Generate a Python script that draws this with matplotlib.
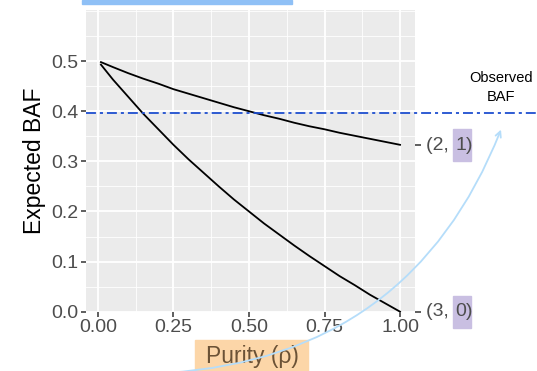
import matplotlib
matplotlib.use("Agg")
import matplotlib.pyplot as plt
from matplotlib.patches import Rectangle, FancyArrowPatch
from matplotlib.ticker import MultipleLocator

plt.rcParams['font.family'] = ['Liberation Sans', 'DejaVu Sans']

# purity values and expected BAF
purity = [0.01, 0.05, 0.1, 0.15, 0.2, 0.25, 0.3, 0.35, 0.4, 0.45, 0.5,
          0.55, 0.6, 0.65, 0.7, 0.75, 0.8, 0.85, 0.9, 0.95, 1.0]
baf_21 = [0.498, 0.488, 0.476, 0.465, 0.455, 0.444, 0.435, 0.426, 0.417, 0.408, 0.400,
          0.392, 0.385, 0.377, 0.370, 0.364, 0.357, 0.351, 0.345, 0.339, 0.333]
baf_30 = [0.493, 0.463, 0.429, 0.395, 0.364, 0.333, 0.304, 0.277, 0.250, 0.224, 0.200,
          0.176, 0.154, 0.132, 0.111, 0.091, 0.071, 0.053, 0.034, 0.017, 0.000]
observed_baf = 0.396

x_ticks = [0.0, 0.25, 0.5, 0.75, 1.0]
x_labels = ["0.00", "0.25", "0.50", "0.75", "1.00"]
y_ticks = [0.0, 0.1, 0.2, 0.3, 0.4, 0.5]
y_labels = ["0.0", "0.1", "0.2", "0.3", "0.4", "0.5"]
right_ticks = [baf_21[-1], baf_30[-1]]
states = [("(2, ", "1", ")"), ("(3, ", "0", ")")]

W, H = 537, 371
def fx(px):
    return px / W
def fy(py):
    return 1 - py / H

fig = plt.figure(figsize=(W / 100, H / 100), dpi=100)
ax = fig.add_axes([fx(86), fy(311.7), fx(415) - fx(86), fy(10) - fy(311.7)])
ax.set_facecolor('#ebebeb')
for s in ax.spines.values():
    s.set_visible(False)

ax.set_xlim(-0.0395, 1.0495)
ax.set_ylim(0, 0.602)
ax.set_xticks(x_ticks)
ax.set_xticklabels(x_labels)
ax.set_yticks(y_ticks)
ax.set_yticklabels(y_labels)
ax.xaxis.set_minor_locator(MultipleLocator(0.125))
ax.yaxis.set_minor_locator(MultipleLocator(0.05))
ax.grid(which='major', color='white', lw=1.3)
ax.grid(which='minor', color='white', lw=0.6)
ax.set_axisbelow(True)
ax.tick_params(which='major', labelsize=14, labelcolor='#4d4d4d', color='#333333',
               length=3.5, width=1.1, pad=2)
ax.tick_params(which='minor', length=0)

ax.plot(purity, baf_21, color='black', lw=1.3, zorder=3)
ax.plot(purity, baf_30, color='black', lw=1.3, zorder=3)

# observed BAF line, runs past the panel to the figure edge
ax.plot([-0.0395, 1.48], [observed_baf, observed_baf], color='#1f4fd0', lw=1.3,
        dashes=(5.5, 2.2, 1.7, 2.2), clip_on=False, zorder=4)

ax.set_ylabel("Expected BAF", fontsize=16.5, labelpad=4)

# right side copy-state labels
ax2 = ax.twinx()
ax2.set_ylim(ax.get_ylim())
for s in ax2.spines.values():
    s.set_visible(False)
ax2.set_yticks(right_ticks)
ax2.set_yticklabels(["", ""])
ax2.tick_params(color='#333333', length=4.5, width=1.1)

for (py, (a, b, c)) in zip([145, 312], states):
    fig.patches.append(Rectangle((fx(453), fy(py + 16)), fx(471) - fx(453), 32 / H,
                                 transform=fig.transFigure, color='#c9bfe2', zorder=1))
    fig.text(fx(426), fy(py), a, fontsize=14, color='#4d4d4d', va='center', ha='left')
    fig.text(fx(460.5), fy(py), b, fontsize=14, color='#4d4d4d', va='center', ha='center')
    fig.text(fx(466), fy(py), c, fontsize=14, color='#4d4d4d', va='center', ha='left')

# x label with orange highlight
fig.patches.append(Rectangle((fx(195), 0), fx(308) - fx(195), (371 - 340) / H,
                             transform=fig.transFigure, color='#fcd6a8', zorder=1))
fig.text(fx(252), fy(356), "Purity (\u03c1)", fontsize=16.5, color='#6b5236',
         ha='center', va='center')

# top blue bar
fig.patches.append(Rectangle((fx(82), fy(4)), fx(292) - fx(82), 4 / H,
                             transform=fig.transFigure, color='#8fc0f6', zorder=1))

fig.text(fx(501), fy(78), "Observed", fontsize=10.5, ha='center', va='center')
fig.text(fx(501), fy(97), "BAF", fontsize=10.5, ha='center', va='center')

arrow = FancyArrowPatch((fx(165), fy(373)), (fx(502), fy(127)), transform=fig.transFigure,
                        connectionstyle="arc3,rad=0.32", arrowstyle="->,head_length=4,head_width=2",
                        color='#b5ddfa', lw=1.3, zorder=10)
fig.patches.append(arrow)

fig.savefig("out.png", dpi=100)
